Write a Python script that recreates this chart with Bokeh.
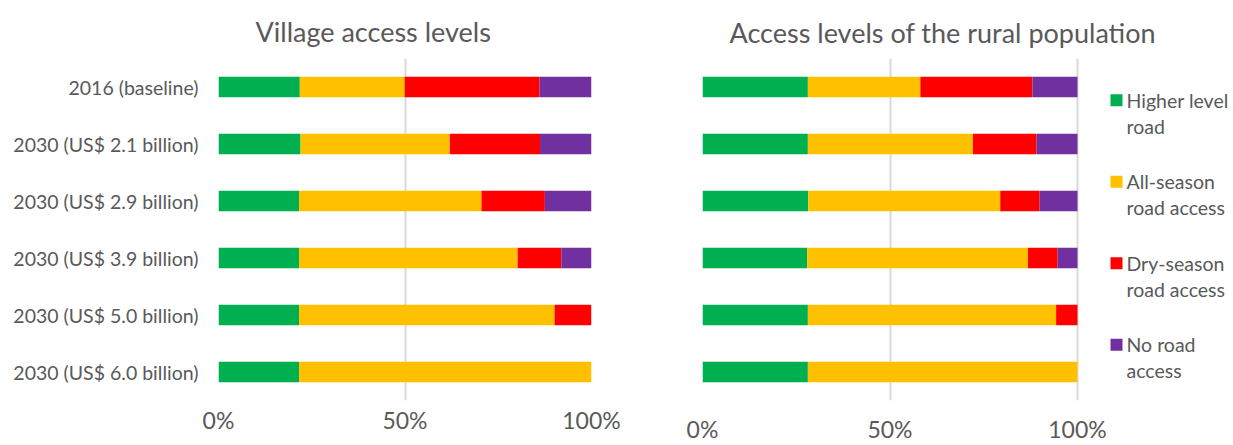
from bokeh.plotting import figure
from bokeh.layouts import row
from bokeh.models import Range1d, FactorRange, FixedTicker, PrintfTickFormatter, ColumnDataSource
from bokeh.embed import file_html
from bokeh.resources import INLINE
from bokeh.core.properties import value

categories = ["2016 (baseline)", "2030 (US$ 2.1 billion)", "2030 (US$ 2.9 billion)",
              "2030 (US$ 3.9 billion)", "2030 (US$ 5.0 billion)", "2030 (US$ 6.0 billion)"]
series_names = ["Higher level road", "All-season road access", "Dry-season road access", "No road access"]
legend_lines = [["Higher level", "road"], ["All-season", "road access"],
                ["Dry-season", "road access"], ["No road", "access"]]
colors = ["#00B050", "#FFC000", "#FF0000", "#7030A0"]

# Village access levels (%)
village_higher = [21.8, 22.0, 21.6, 21.6, 21.6, 21.6]
village_allseason = [28.1, 40.0, 48.9, 58.6, 68.5, 78.4]
village_dryseason = [36.2, 24.2, 17.0, 11.7, 9.9, 0.0]
village_noroad = [13.9, 13.8, 12.5, 8.1, 0.0, 0.0]

# Access levels of the rural population (%)
pop_higher = [28.1, 28.1, 28.2, 27.9, 28.1, 28.1]
pop_allseason = [30.0, 44.0, 51.2, 58.9, 66.2, 71.9]
pop_dryseason = [29.9, 17.0, 10.5, 7.9, 5.7, 0.0]
pop_noroad = [12.0, 10.9, 10.1, 5.3, 0.0, 0.0]

x_ticks = [0, 50, 100]

TEXT = "#595959"
FONT = "Lato"


def stacked(series):
    lefts, rights = [], []
    acc = [0.0] * len(categories)
    for s in series:
        l = list(acc)
        acc = [a + v for a, v in zip(acc, s)]
        lefts.append(l)
        rights.append(list(acc))
    return lefts, rights


def style_common(p, title_text, title_offset, title_standoff, label_standoff):
    p.title.text = title_text
    p.title.text_font = FONT
    p.title.text_font_size = "27px"
    p.title.text_font_style = "normal"
    p.title.text_color = TEXT
    p.title.align = "left"
    p.title.offset = title_offset
    p.title.standoff = title_standoff
    p.outline_line_color = None
    p.ygrid.grid_line_color = None
    p.xgrid.grid_line_color = "#D9D9D9"
    p.xgrid.grid_line_width = 2
    p.xaxis.ticker = FixedTicker(ticks=x_ticks)
    p.xaxis.formatter = PrintfTickFormatter(format="%d%%")
    p.xaxis.axis_line_color = None
    p.xaxis.major_tick_line_color = None
    p.xaxis.minor_tick_line_color = None
    p.xaxis.major_tick_out = 0
    p.xaxis.minor_tick_out = 0
    p.xaxis.major_label_text_font = FONT
    p.xaxis.major_label_text_font_size = "23px"
    p.xaxis.major_label_text_color = TEXT
    p.xaxis.major_label_standoff = label_standoff


# ---------- left chart ----------
left = figure(width=640, height=445, output_backend="svg", toolbar_location=None,
              y_range=FactorRange(*reversed(categories)), x_range=Range1d(0, 100),
              min_border_left=218, min_border_right=49, min_border_top=58, min_border_bottom=40)
style_common(left, "Village access levels", 37, 22, 5)
lefts, rights = stacked([village_higher, village_allseason, village_dryseason, village_noroad])
for i in range(4):
    src = ColumnDataSource(dict(y=categories, l=lefts[i], r=rights[i]))
    left.hbar(y="y", left="l", right="r", height=0.36, source=src,
              fill_color=colors[i], line_color=None)
left.yaxis.axis_line_color = None
left.yaxis.major_tick_line_color = None
left.yaxis.minor_tick_line_color = None
left.yaxis.major_tick_out = 0
left.yaxis.major_label_text_font = FONT
left.yaxis.major_label_text_font_size = "19.5px"
left.yaxis.major_label_text_color = TEXT
left.yaxis.major_label_standoff = 20

# ---------- right chart ----------
x_max = 100 * 531 / 375
right = figure(width=593, height=445, output_backend="svg", toolbar_location=None,
               y_range=Range1d(0, 6), x_range=Range1d(0, x_max),
               min_border_left=62, min_border_right=0, min_border_top=56, min_border_bottom=45)
style_common(right, "Access levels of the rural population", 27, 20, 14)
right.yaxis.visible = False
ypos = [5.5 - i for i in range(len(categories))]
lefts, rights = stacked([pop_higher, pop_allseason, pop_dryseason, pop_noroad])
for i in range(4):
    src = ColumnDataSource(dict(y=ypos, l=lefts[i], r=rights[i]))
    right.hbar(y="y", left="l", right="r", height=0.36, source=src,
               fill_color=colors[i], line_color=None)

# legend (drawn in data space to the right of the bars)
px_x = 375 / 100.0
px_y = 344 / 6.0
sq_x = (1116 - 702) / px_x
tx_x = (1126 - 702) / px_x
first_y = (400 - 98) / px_y
step = 82 / px_y
line_gap = 26 / px_y
for i, lines in enumerate(legend_lines):
    y0 = first_y - i * step
    right.rect(x=[sq_x], y=[y0], width=12, height=12, width_units="screen", height_units="screen",
               fill_color=colors[i], line_color=None)
    right.text(x=[tx_x, tx_x], y=[y0, y0 - line_gap], text=lines,
               text_font=value(FONT), text_font_size="19.5px", text_color=TEXT,
               text_baseline="middle", text_align="left")

layout = row(left, right)
open("out.html", "w").write(file_html(layout, INLINE))
